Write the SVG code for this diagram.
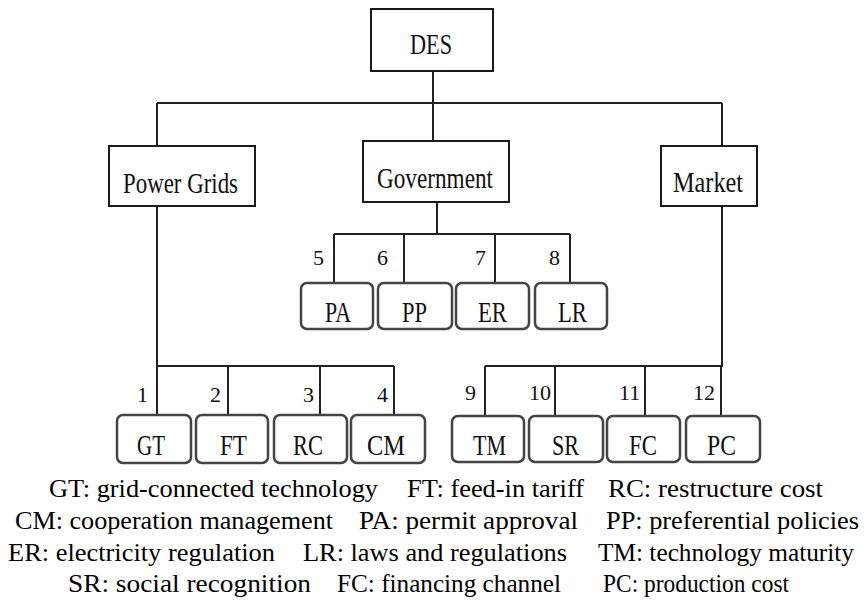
<svg xmlns="http://www.w3.org/2000/svg" width="866" height="603" viewBox="0 0 866 603">
<style>
.bg{fill:#ffffff}
.top{fill:#ffffff;stroke:#1a1a1a;stroke-width:2}
.leaf{fill:#ffffff;stroke:#444444;stroke-width:2.5}
text{font-family:'Liberation Serif','Times New Roman',Tinos,'DejaVu Serif',serif}
.lbl{font-size:29px;fill:#111}
.num{font-size:22px;fill:#111}
.leg{font-size:25px;fill:#000}
.wire{fill:none;stroke:#222;stroke-width:2}
</style>
<rect class="bg" x="0" y="0" width="866" height="603"/>
<g id="connectors">
<path class="wire" d="M433 71V103M157 103H722M157 103V146M433 103V141M722 103V146"/>
<path class="wire" d="M157 206V366H394M157 366V415M228 366V415M320 366V415M394 366V415"/>
<path class="wire" d="M437 202V234M334 234H570M334 234V283M404 234V283M495 234V283M570 234V283"/>
<path class="wire" d="M722 206V366H485M485 366V416M555 366V416M645 366V416M721 366V416"/>
<g>
<text class="num" x="313" y="265">5</text><text class="num" x="377" y="265">6</text><text class="num" x="475" y="265">7</text><text class="num" x="549" y="265">8</text>
<text class="num" x="137" y="402">1</text><text class="num" x="210" y="402">2</text><text class="num" x="303" y="402">3</text><text class="num" x="377" y="402">4</text>
<text class="num" x="465" y="400">9</text><text class="num" x="529" y="400">10</text><text class="num" x="619" y="400">11</text><text class="num" x="693" y="400">12</text>
</g>
</g>
<g id="DES"><rect class="top" x="371" y="9" width="122" height="62"/><text class="lbl" x="410" y="54" textLength="42" lengthAdjust="spacingAndGlyphs">DES</text></g>
<g id="PowerGrids"><rect class="top" x="109" y="146" width="146" height="60"/><text class="lbl" x="123" y="193" textLength="115" lengthAdjust="spacingAndGlyphs">Power Grids</text></g>
<g id="Government"><rect class="top" x="363" y="141" width="146" height="61"/><text class="lbl" x="377" y="188" textLength="116" lengthAdjust="spacingAndGlyphs">Government</text></g>
<g id="Market"><rect class="top" x="661" y="146" width="96" height="60"/><text class="lbl" x="673" y="192" textLength="70" lengthAdjust="spacingAndGlyphs">Market</text></g>
<g id="PA"><rect class="leaf" x="301" y="283" width="72" height="46" rx="6"/><text class="lbl" x="325" y="322" textLength="26" lengthAdjust="spacingAndGlyphs">PA</text></g>
<g id="PP"><rect class="leaf" x="378" y="283" width="74" height="46" rx="6"/><text class="lbl" x="402" y="322" textLength="25" lengthAdjust="spacingAndGlyphs">PP</text></g>
<g id="ER"><rect class="leaf" x="456" y="283" width="73" height="46" rx="6"/><text class="lbl" x="478" y="322" textLength="29" lengthAdjust="spacingAndGlyphs">ER</text></g>
<g id="LR"><rect class="leaf" x="535" y="283" width="72" height="46" rx="6"/><text class="lbl" x="558" y="322" textLength="29" lengthAdjust="spacingAndGlyphs">LR</text></g>
<g id="GT"><rect class="leaf" x="117" y="415" width="74" height="48" rx="6"/><text class="lbl" x="137" y="455" textLength="28" lengthAdjust="spacingAndGlyphs">GT</text></g>
<g id="FT"><rect class="leaf" x="196" y="415" width="72" height="48" rx="6"/><text class="lbl" x="220" y="455" textLength="27" lengthAdjust="spacingAndGlyphs">FT</text></g>
<g id="RC"><rect class="leaf" x="274" y="415" width="73" height="48" rx="6"/><text class="lbl" x="293" y="455" textLength="30" lengthAdjust="spacingAndGlyphs">RC</text></g>
<g id="CM"><rect class="leaf" x="351" y="415" width="74" height="48" rx="6"/><text class="lbl" x="367" y="455" textLength="38" lengthAdjust="spacingAndGlyphs">CM</text></g>
<g id="TM"><rect class="leaf" x="452" y="416" width="72" height="46" rx="6"/><text class="lbl" x="473" y="455" textLength="33" lengthAdjust="spacingAndGlyphs">TM</text></g>
<g id="SR"><rect class="leaf" x="529" y="416" width="74" height="46" rx="6"/><text class="lbl" x="552" y="455" textLength="27" lengthAdjust="spacingAndGlyphs">SR</text></g>
<g id="FC"><rect class="leaf" x="607" y="416" width="73" height="46" rx="6"/><text class="lbl" x="629" y="455" textLength="28" lengthAdjust="spacingAndGlyphs">FC</text></g>
<g id="PC"><rect class="leaf" x="686" y="416" width="74" height="46" rx="6"/><text class="lbl" x="707" y="455" textLength="29" lengthAdjust="spacingAndGlyphs">PC</text></g>
<g id="legend">
<text class="leg" x="49" y="497" textLength="329" lengthAdjust="spacingAndGlyphs">GT: grid-connected technology</text>
<text class="leg" x="407" y="497" textLength="177" lengthAdjust="spacingAndGlyphs">FT: feed-in tariff</text>
<text class="leg" x="608" y="497" textLength="215" lengthAdjust="spacingAndGlyphs">RC: restructure cost</text>
<text class="leg" x="15" y="529" textLength="318" lengthAdjust="spacingAndGlyphs">CM: cooperation management</text>
<text class="leg" x="359" y="529" textLength="219" lengthAdjust="spacingAndGlyphs">PA: permit approval</text>
<text class="leg" x="606" y="529" textLength="253" lengthAdjust="spacingAndGlyphs">PP: preferential policies</text>
<text class="leg" x="8" y="561" textLength="267" lengthAdjust="spacingAndGlyphs">ER: electricity regulation</text>
<text class="leg" x="303" y="561" textLength="264" lengthAdjust="spacingAndGlyphs">LR: laws and regulations</text>
<text class="leg" x="598" y="561" textLength="256" lengthAdjust="spacingAndGlyphs">TM: technology maturity</text>
<text class="leg" x="68" y="592" textLength="243" lengthAdjust="spacingAndGlyphs">SR: social recognition</text>
<text class="leg" x="337" y="592" textLength="224" lengthAdjust="spacingAndGlyphs">FC: financing channel</text>
<text class="leg" x="603" y="592" textLength="186" lengthAdjust="spacingAndGlyphs">PC: production cost</text>
</g>
</svg>
